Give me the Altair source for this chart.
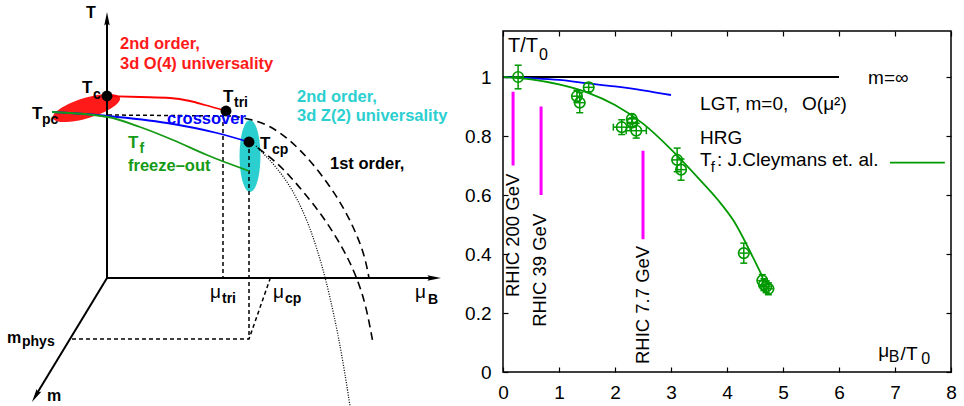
import altair as alt
import pandas as pd

# ====================== right panel data ======================
fo_x    = [0.27, 1.32, 1.37, 1.53, 2.12, 2.30, 2.31, 2.38, 3.11, 3.18, 4.30, 4.63, 4.66, 4.70, 4.74]
fo_y    = [1.000, 0.935, 0.913, 0.965, 0.830, 0.858, 0.846, 0.818, 0.719, 0.686, 0.403, 0.310, 0.296, 0.289, 0.282]
fo_xerr = [0.10, 0.10, 0.10, 0.10, 0.15, 0.10, 0.10, 0.18, 0.10, 0.10, 0.08, 0.08, 0.08, 0.08, 0.08]
fo_yerr = [0.04, 0.02, 0.034, 0.015, 0.025, 0.015, 0.015, 0.025, 0.04, 0.036, 0.034, 0.02, 0.02, 0.02, 0.02]

hrg_x = [0.0, 0.5, 1.0, 1.5, 2.0, 2.5, 3.0, 3.5, 3.84, 4.11, 4.46, 4.64]
hrg_y = [1.0, 0.992, 0.975, 0.948, 0.905, 0.842, 0.755, 0.655, 0.583, 0.515, 0.39, 0.32]

lgt_x = [0.0, 0.5, 1.0, 1.5, 2.0, 2.5, 3.0]
lgt_y = [1.0, 0.996, 0.99, 0.979, 0.968, 0.955, 0.939]

minf_x = [0.0, 6.0]
minf_y = [1.0, 1.0]

legend_x = [6.91, 7.89]
legend_y = [0.71, 0.71]

rhic_labels = ["RHIC 200 GeV", "RHIC 39 GeV", "RHIC 7.7 GeV"]
rhic_x = [0.18, 0.68, 2.50]
rhic_top = [0.95, 0.90, 0.75]
rhic_bottom = [0.70, 0.60, 0.45]
rhic_label_x = [0.17, 0.66, 2.50]
rhic_label_y = [0.254, 0.153, 0.027]

xticks = [0, 1, 2, 3, 4, 5, 6, 7, 8]
yticks = [0, 0.2, 0.4, 0.6, 0.8, 1.0]
frame_x = [0, 8]
frame_y = [0, 1.156]

right_text = ["T/T", "0", "m=\u221e", "LGT, m=0,", "O(\u03bc\u00b2)", "HRG", "T", "f",
              ": J.Cleymans et. al.", "\u03bc", "B", "/T", "0"]
right_text_x = [0.09, 0.645, 6.52, 3.52, 5.34, 3.52, 3.52, 3.71, 3.82, 6.70, 6.89, 7.10, 7.47]
right_text_y = [1.105, 1.076, 0.997, 0.908, 0.908, 0.793, 0.719, 0.695, 0.719, 0.072, 0.050, 0.061, 0.043]
right_text_fs = [20, 16, 19, 19, 19, 19, 19, 15, 19, 19, 16, 19, 16]

# ====================== left panel (schematic) data ======================
# schematic coordinates: u along mu_B, v along T, origin at the axes' corner
ax_T_u, ax_T_v = [0, 0], [0, 258]
ax_mu_u, ax_mu_v = [0, 326], [0, 0]
ax_m_u, ax_m_v = [0, -71], [0, -117]
arrow_u = [0, 326, -70.9]
arrow_v = [258, 0, -117.2]
arrow_dir = ["T", "muB", "m"]

red_u = [0, 33, 63, 83, 98, 119]
red_v = [182, 181, 180, 177, 173, 167]
blue_u = [-55, 1, 60, 110, 142]
blue_v = [166, 162, 155, 145, 136]
green_u = [-55, 1, 33, 66, 100, 142]
green_v = [166, 161, 151, 138, 123, 107]

sd1_u, sd1_v = [1, 125], [163, 162]            # T-axis projection
sd2_u, sd2_v = [116, 116], [156, 0]            # mu_tri drop
sd3_u, sd3_v = [142, 142], [136, -61]          # T_cp drop
sd4_u, sd4_v = [-35, 142, 163], [-61, -61, -1]  # m_phys line

outer_u = [125, 143, 163, 183, 203, 223, 238, 250, 258, 262]
outer_v = [162, 159, 152.5, 138, 118, 92, 68, 43, 21, 0]
inner_u = [151, 168, 183, 199, 214, 228, 240, 250, 259, 266]
inner_v = [130, 117, 102, 83, 64, 43, 22, 0, -27, -65]
dot_u = [149, 163, 178, 191, 202, 211, 219, 227, 235, 243]
dot_v = [132, 118, 100, 78, 53, 26, -2, -37, -77, -128]

crit_u = [0, 119, 142]   # T_c, T_tri, T_cp
crit_v = [182, 167, 136]

red_ell_u, red_ell_v = [-20.5], [170]
cyan_ell_u, cyan_ell_v = [143], [122]

RED, BLUE, GREEN, CYAN, BLACK = "#ff1a1a", "#0000ff", "#159a15", "#2ccfcf", "black"
lt_text = ["T", "2nd order,", "3d O(4) universality", "T", "c", "T", "pc", "T", "tri",
           "crossover", "T", "f", "freeze\u2013out", "T", "cp", "2nd order,",
           "3d Z(2) universality", "1st order,", "tri", "cp", "B", "m", "phys", "m"]
lt_u = [-21, 13, 13, -25, -14, -75, -65, 116, 127, 60, 21, 32.5, 21, 153, 165, 190,
        190, 223, 115, 178, 321, -100, -85, -60]
lt_v = [265, 234, 214, 190, 183, 164, 158, 181, 175, 159.5, 135.5, 129, 112, 134, 128, 181,
        162, 114, -21, -21, -22, -60, -64, -118]
lt_fs = [16, 16.5, 16.5, 17, 14, 17, 14, 17, 14, 16.5, 17, 14, 16.5, 17, 14, 16.5,
         16.5, 16.5, 14, 14, 14, 16, 14, 16]
lt_col = [BLACK, RED, RED, BLACK, BLACK, BLACK, BLACK, BLACK, BLACK, BLUE, GREEN, GREEN,
          GREEN, BLACK, BLACK, CYAN, CYAN, BLACK, BLACK, BLACK, BLACK, BLACK, BLACK, BLACK]
mu_u = [103, 166, 308]
mu_v = [-13.5, -13.5, -13.5]

# ====================== scales ======================
XR = alt.Scale(domain=[0, 8], range=[503, 951], nice=False, zero=False)
YR = alt.Scale(domain=[0, 1.156], range=[372, 31], nice=False, zero=False)
XL = alt.Scale(domain=[-107, 857], range=[0, 964], nice=False, zero=False)
YL = alt.Scale(domain=[-128, 278], range=[406, 0], nice=False, zero=False)
FONT = "Liberation Sans"


def lx(f="u"):
    return alt.X(f"{f}:Q", scale=XL, axis=None)


def ly(f="v"):
    return alt.Y(f"{f}:Q", scale=YL, axis=None)


def rx(f="x", axis=None):
    return alt.X(f"{f}:Q", scale=XR, axis=axis)


def ry(f="y", axis=None):
    return alt.Y(f"{f}:Q", scale=YR, axis=axis)


def path_df(us, vs, name="p"):
    return pd.DataFrame({"path": name, "i": list(range(len(us))), "u": us, "v": vs})


def lline(df, color, width, dash=None, interp="linear"):
    kw = dict(color=color, strokeWidth=width, interpolate=interp)
    if dash:
        kw["strokeDash"] = dash
    return alt.Chart(df).mark_line(**kw).encode(x=lx(), y=ly(), detail="path:N", order="i:Q")


layers = []

# ---------- left schematic ----------
ELL = "M-1,0A1,0.29 0 1,1 1,0A1,0.29 0 1,1 -1,0Z"
layers.append(alt.Chart(pd.DataFrame({"u": red_ell_u, "v": red_ell_v})).mark_point(
    shape=ELL, size=4900, angle=343, filled=True, color=RED, opacity=1).encode(x=lx(), y=ly()))
layers.append(alt.Chart(pd.DataFrame({"u": cyan_ell_u, "v": cyan_ell_v})).mark_point(
    shape=ELL, size=5184, angle=90, filled=True, color=CYAN, opacity=1).encode(x=lx(), y=ly()))

axes_df = pd.concat([path_df(ax_T_u, ax_T_v, "T"), path_df(ax_mu_u, ax_mu_v, "mu"),
                     path_df(ax_m_u, ax_m_v, "m")])
layers.append(lline(axes_df, BLACK, 2))

ARROW = "M0,-1L0.34,0.7L0,0.45L-0.34,0.7Z"
arr_df = pd.DataFrame({"u": arrow_u, "v": arrow_v, "d": arrow_dir})
for d, ang in [("T", 0), ("muB", 90), ("m", 211)]:
    layers.append(alt.Chart(arr_df).transform_filter(alt.datum.d == d).mark_point(
        shape=ARROW, size=256, angle=ang, filled=True, color=BLACK, opacity=1).encode(x=lx(), y=ly()))

short_df = pd.concat([path_df(sd1_u, sd1_v, "a"), path_df(sd2_u, sd2_v, "b"),
                      path_df(sd3_u, sd3_v, "c"), path_df(sd4_u, sd4_v, "d")])
layers.append(lline(short_df, BLACK, 1.5, dash=[4, 3]))
layers.append(lline(path_df(outer_u, outer_v), BLACK, 1.6, dash=[8, 5], interp="basis"))
layers.append(lline(path_df(inner_u, inner_v), BLACK, 1.6, dash=[8, 5], interp="basis"))
layers.append(lline(path_df(dot_u, dot_v), BLACK, 1.3, dash=[1, 1.5], interp="basis"))

layers.append(lline(path_df(red_u, red_v), "#ff0000", 1.8, interp="monotone"))
layers.append(lline(path_df(blue_u, blue_v), BLUE, 1.8, interp="monotone"))
layers.append(lline(path_df(green_u, green_v), GREEN, 1.8, interp="monotone"))

layers.append(alt.Chart(pd.DataFrame({"u": crit_u, "v": crit_v})).mark_point(
    shape="circle", size=120, filled=True, color=BLACK, opacity=1).encode(x=lx(), y=ly()))

lt_df = pd.DataFrame({"t": lt_text, "u": lt_u, "v": lt_v, "fs": lt_fs, "c": lt_col})
layers.append(alt.Chart(lt_df).mark_text(align="left", baseline="middle", font=FONT,
                                          fontWeight="bold").encode(
    x=lx(), y=ly(), text="t:N", size=alt.Size("fs:Q", scale=None),
    color=alt.Color("c:N", scale=None)))
layers.append(alt.Chart(pd.DataFrame({"u": mu_u, "v": mu_v, "t": ["\u03bc"] * 3})).mark_text(
    align="left", baseline="middle", font=FONT, fontSize=19, color=BLACK).encode(
    x=lx(), y=ly(), text="t:N"))

# ---------- right panel ----------
MAG = "#ff00ff"
RG = "#009900"
rh_df = pd.DataFrame({"x": rhic_x, "y": rhic_bottom, "y2": rhic_top,
                      "lx": rhic_label_x, "ly": rhic_label_y, "t": rhic_labels})
layers.append(alt.Chart(rh_df).mark_rule(color=MAG, strokeWidth=3).encode(
    x=rx(), y=ry(), y2="y2:Q"))
layers.append(alt.Chart(rh_df).mark_text(angle=270, align="left", baseline="middle",
                                          font=FONT, fontSize=18.5, color=BLACK).encode(
    x=rx("lx"), y=ry("ly"), text="t:N"))

# main axes (bottom labels + left labels) on the m=inf line layer
ax_common = dict(grid=False, domain=False, tickSize=5, tickWidth=1.2, tickColor=BLACK,
                 labelFont=FONT, labelFontSize=19, labelColor=BLACK, title=None,
                 labelOverlap=False, labelFlush=False, labelBound=False)
xaxis = alt.Axis(orient="bottom", offset=-39, values=xticks, labelPadding=11, format="d",
                 **ax_common)
yaxis = alt.Axis(orient="left", offset=-508, values=yticks, labelPadding=12, format="~g",
                 **ax_common)
layers.append(alt.Chart(pd.DataFrame({"x": minf_x, "y": minf_y})).mark_line(
    color=BLACK, strokeWidth=1.8).encode(x=rx(axis=xaxis), y=ry(axis=yaxis)))

layers.append(alt.Chart(pd.DataFrame({"x": lgt_x, "y": lgt_y})).mark_line(
    color=BLUE, strokeWidth=1.8, interpolate="monotone").encode(x=rx(), y=ry()))
layers.append(alt.Chart(pd.DataFrame({"x": hrg_x, "y": hrg_y})).mark_line(
    color=RG, strokeWidth=1.8, interpolate="monotone").encode(x=rx(), y=ry()))
layers.append(alt.Chart(pd.DataFrame({"x": legend_x, "y": legend_y})).mark_line(
    color=RG, strokeWidth=1.8).encode(x=rx(), y=ry()))

pts = pd.DataFrame({"x": fo_x, "y": fo_y, "xe": fo_xerr, "ye": fo_yerr})
pts["xlo"] = pts.x - pts.xe
pts["xhi"] = pts.x + pts.xe
pts["ylo"] = pts.y - pts.ye
pts["yhi"] = pts.y + pts.ye
base = alt.Chart(pts)
layers.append(base.mark_rule(color=RG, strokeWidth=1.5).encode(x=rx(), y=ry("ylo"), y2="yhi:Q"))
layers.append(base.mark_rule(color=RG, strokeWidth=1.5).encode(x=rx("xlo"), x2="xhi:Q", y=ry()))
for f in ["ylo", "yhi"]:
    layers.append(base.mark_rule(color=RG, strokeWidth=1.5, xOffset=-3.5, x2Offset=3.5).encode(
        x=rx(), x2="x:Q", y=ry(f)))
for f in ["xlo", "xhi"]:
    layers.append(base.transform_filter(alt.datum.xe > 0.12).mark_rule(
        color=RG, strokeWidth=1.5, yOffset=-3.5, y2Offset=3.5).encode(
        x=rx(f), y=ry(), y2="y:Q"))
layers.append(base.mark_point(shape="circle", size=110, filled=False, color=RG,
                              strokeWidth=1.6, opacity=1).encode(x=rx(), y=ry()))

rt_df = pd.DataFrame({"t": right_text, "x": right_text_x, "y": right_text_y, "fs": right_text_fs})
layers.append(alt.Chart(rt_df).mark_text(align="left", baseline="middle", font=FONT,
                                          color=BLACK).encode(
    x=rx(), y=ry(), text="t:N", size=alt.Size("fs:Q", scale=None)))

# frame + mirrored ticks
mir_common = dict(grid=False, domain=False, tickSize=5, tickWidth=1.2, tickColor=BLACK,
                  labels=False, title=None)
xaxis_top = alt.Axis(orient="top", offset=-36, values=xticks, **mir_common)
yaxis_right = alt.Axis(orient="right", offset=-18, values=yticks, **mir_common)
fr_df = pd.DataFrame({"x": [frame_x[0]], "x2": [frame_x[1]], "y": [frame_y[0]], "y2": [frame_y[1]]})
layers.append(alt.Chart(fr_df).mark_rect(fillOpacity=0, stroke=BLACK, strokeWidth=1.5).encode(
    x=rx(axis=xaxis_top), x2="x2:Q", y=ry(axis=yaxis_right), y2="y2:Q"))

chart = alt.layer(*layers).resolve_scale(x="independent", y="independent").resolve_axis(
    x="independent", y="independent").properties(
    width=964, height=406, autosize=alt.AutoSizeParams(type="none"), padding=0
).configure_view(stroke=None)

chart.save("out.html", embed_options={"renderer": "svg", "actions": False})
